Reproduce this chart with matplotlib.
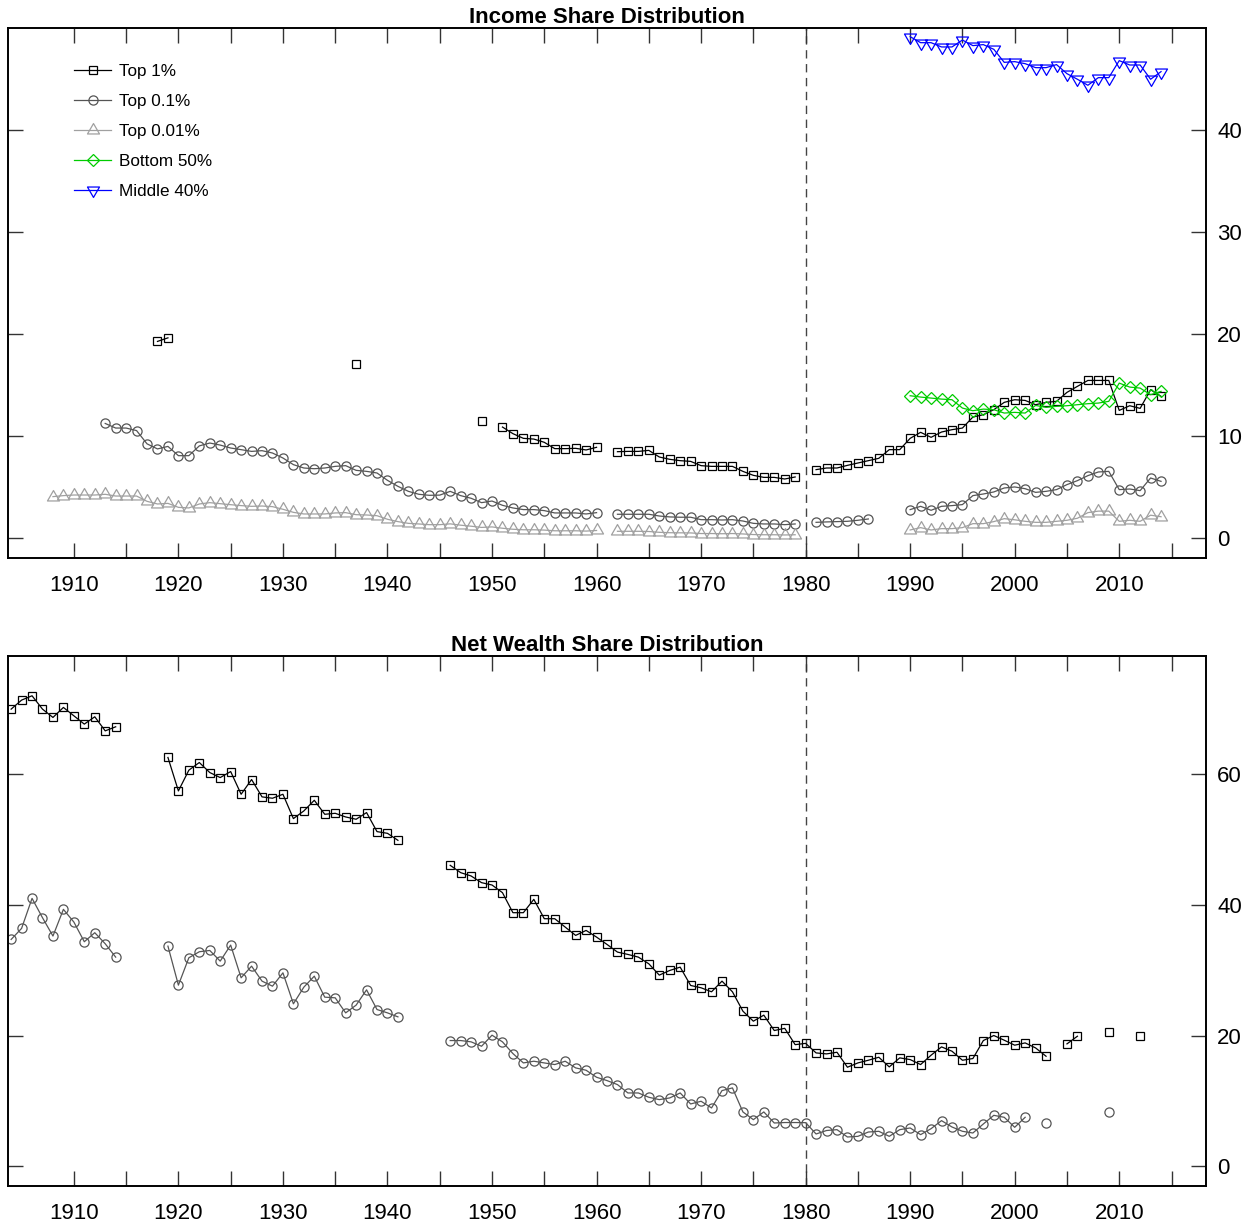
import numpy as np
import matplotlib.pyplot as plt
from matplotlib.path import Path

plt.rcParams['font.family'] = ['Liberation Sans', 'DejaVu Sans']

# ---- income shares (%), one value per year from the start year; None = no data
inc_top1_start = 1918
inc_top1 = [19.25, 19.6] + [None] * 17 + [17.0] + [None] * 11 + [11.47, None,
            10.85, 10.2, 9.74, 9.67, 9.35, 8.73, 8.73, 8.76, 8.6, 8.86, None,
            8.43, 8.46, 8.46, 8.56, 7.91, 7.68, 7.55, 7.48, 7.06, 6.99, 6.99, 6.99,
            6.5, 6.11, 5.91, 5.91, 5.75, 5.95, None,
            6.67, 6.83, 6.83, 7.09, 7.32, 7.55, 7.78, 8.63, 8.63,
            9.74, 10.33, 9.84, 10.36, 10.59, 10.75, 11.83, 12.06, 12.55, 13.27,
            13.53, 13.46, 13.04, 13.27, 13.37, 14.25, 14.84, 15.42, 15.42, 15.42,
            12.48, 12.94, 12.68, 14.51, 13.86]

inc_top01_start = 1913
inc_top01 = [11.2, 10.75, 10.75, 10.5, 9.2, 8.7, 8.95, 8.04, 8.04, 9.0,
             9.28, 9.08, 8.79, 8.63, 8.46, 8.53, 8.3, 7.81, 7.16, 6.83,
             6.76, 6.83, 6.99, 7.06, 6.6, 6.5, 6.34, 5.62, 5.03, 4.54,
             4.25, 4.15, 4.17, 4.54, 4.12, 3.86, 3.43, 3.59, 3.17, 2.91,
             2.75, 2.75, 2.65, 2.42, 2.42, 2.42, 2.32, 2.45, None,
             2.29, 2.29, 2.29, 2.29, 2.12, 2.03, 2.0, 2.0, 1.76, 1.76, 1.73,
             1.76, 1.63, 1.4, 1.34, 1.34, 1.27, 1.34, None,
             1.5, 1.54, 1.57, 1.6, 1.7, 1.83, None, None, None,
             2.75, 3.07, 2.68, 3.07, 3.14, 3.24, 4.12, 4.28, 4.48, 4.87,
             4.97, 4.8, 4.44, 4.54, 4.71, 5.2, 5.59, 6.08, 6.44, 6.5,
             4.71, 4.77, 4.61, 5.85, 5.52]

inc_top001_start = 1908
inc_top001 = [4.02, 4.12, 4.18, 4.18, 4.18, 4.25, 4.08, 4.08, 4.08, 3.56,
              3.3, 3.36, 2.97, 2.91, 3.3, 3.43, 3.33, 3.23, 3.14, 3.07,
              3.1, 3.04, 2.78, 2.48, 2.32, 2.32, 2.32, 2.42, 2.45, 2.25,
              2.22, 2.15, 1.8, 1.57, 1.4, 1.34, 1.27, 1.27, 1.35, 1.22,
              1.12, 1.0, 1.05, 0.92, 0.82, 0.77, 0.77, 0.74, 0.67, 0.67,
              0.67, 0.64, 0.7, None,
              0.62, 0.62, 0.62, 0.6, 0.52, 0.48, 0.47, 0.46, 0.4, 0.4,
              0.38, 0.4, 0.36, 0.3, 0.28, 0.28, 0.26, 0.28] + [None] * 10 + [
              0.75, 0.98, 0.75, 0.88, 0.88, 0.98, 1.37, 1.37, 1.57, 1.86,
              1.75, 1.6, 1.5, 1.5, 1.6, 1.7, 1.9, 2.45, 2.6, 2.6,
              1.6, 1.7, 1.6, 2.2, 2.05]

inc_bottom50_start = 1990
inc_bottom50 = [13.92, 13.79, 13.69, 13.59, 13.53, 12.71, 12.45, 12.61, 12.55, 12.22,
                12.29, 12.22, 12.97, 12.78, 12.88, 12.94, 13.04, 13.14, 13.2, 13.37,
                15.16, 14.77, 14.67, 14.02, 14.35]

inc_middle40_start = 1990
inc_middle40 = [49.15, 48.56, 48.56, 48.14, 48.14, 48.82, 48.27, 48.37, 47.91, 46.63,
                46.7, 46.5, 46.11, 46.11, 46.41, 45.52, 44.97, 44.38, 45.13, 45.13,
                46.8, 46.37, 46.37, 44.97, 45.72]

# ---- net wealth shares (%)
w_top1_start = 1904
w_top1 = [69.88, 71.26, 71.92, 69.88, 68.61, 70.14, 68.86, 67.59, 68.71, 66.56,
          67.18, None, None, None, None,
          62.49, 57.38, 60.55, 61.72, 60.19, 59.42, 60.34, 56.87, 59.12, 56.47,
          56.26, 56.87, 53.15, 54.32, 55.95, 53.81, 53.96, 53.4, 53.05, 54.07,
          51.16, 50.9, 49.83, None, None, None, None,
          46.01, 44.89, 44.38, 43.36, 43.0, 41.83, 38.77, 38.77, 40.81, 37.85,
          37.85, 36.57, 35.3, 36.06, 35.04, 33.92, 32.75, 32.39, 31.98, 30.96,
          29.23, 29.94, 30.45, 27.65, 27.29, 26.68, 28.31, 26.68, 23.72, 22.19,
          23.11, 20.76, 21.1, 18.6, 18.8, 17.34, 17.19, 17.44, 15.15, 15.81,
          16.22, 16.68, 15.2, 16.58, 16.32, 15.56, 16.99, 18.26, 17.6, 16.22,
          16.48, 19.23, 20.0, 19.28, 18.52, 18.87, 18.1, 16.83, None,
          18.72, 19.89, None, None, 20.55, None, None, 19.89]

w_top01_start = 1904
w_top01 = [34.68, 36.37, 40.96, 38.0, 35.2, 39.28, 37.34, 34.33, 35.71, 34.02,
           31.98, None, None, None, None,
           33.66, 27.7, 31.88, 32.8, 33.0, 31.37, 33.82, 28.82, 30.6, 28.31,
           27.54, 29.58, 24.84, 27.39, 29.07, 25.86, 25.76, 23.46, 24.64, 26.98,
           23.97, 23.46, 22.85, None, None, None, None,
           19.23, 19.23, 19.03, 18.36, 20.05, 19.03, 17.24, 15.81, 16.07, 15.81,
           15.56, 16.07, 15.05, 14.69, 13.62, 13.11, 12.5, 11.22, 11.22, 10.56,
           10.2, 10.46, 11.22, 9.54, 9.95, 8.93, 11.58, 11.99, 8.32, 7.14,
           8.32, 6.63, 6.7, 6.7, 6.68, 4.95, 5.48, 5.61, 4.49, 4.59,
           5.25, 5.36, 4.59, 5.61, 5.87, 4.85, 5.76, 6.99, 6.02, 5.36,
           5.1, 6.48, 7.8, 7.5, 5.97, 7.5, None, 6.63,
           None, None, None, None, None, 8.26]


def series(start, vals):
    years = np.arange(start, start + len(vals))
    y = np.array([np.nan if v is None else v for v in vals], dtype=float)
    return years, y


# R-style triangles: the data point sits one third up from the base
tri_codes = [Path.MOVETO, Path.LINETO, Path.LINETO, Path.CLOSEPOLY]
tri_up = Path([(0, 1.555), (1.347, -0.778), (-1.347, -0.778), (0, 1.555)], tri_codes)
tri_down = Path([(0, -1.555), (1.347, 0.778), (-1.347, 0.778), (0, -1.555)], tri_codes)

style = {
    'Top 1%': dict(color='black', marker='s', ms=5.8),
    'Top 0.1%': dict(color='#555555', marker='o', ms=6.6),
    'Top 0.01%': dict(color='#a0a0a0', marker=tri_up, ms=10),
    'Bottom 50%': dict(color='#00cc00', marker='D', ms=5.8),
    'Middle 40%': dict(color='#0000ff', marker=tri_down, ms=10),
}


def draw(ax, start, vals, name, label=True):
    x, y = series(start, vals)
    st = style[name]
    ax.plot(x, y, color=st['color'], lw=0.9, marker=st['marker'], ms=st['ms'],
            mfc='none', mec=st['color'], mew=0.9, label=name if label else None)


def frame(ax, yticks):
    ax.set_xlim(1903.7, 2018.3)
    ax.set_xticks(range(1910, 2011, 10))
    ax.set_xticks(range(1915, 2016, 10), minor=True)
    ax.set_yticks(yticks)
    ax.tick_params(which='both', direction='in', length=11, width=1.0,
                   color='#333333', top=True, bottom=True, left=True, right=True,
                   labelleft=False, labelright=True, labelsize=16)
    ax.tick_params(axis='x', pad=12.5)
    ax.tick_params(axis='y', pad=8)
    for s in ax.spines.values():
        s.set_linewidth(1.4)
    ax.axvline(1980, color='#444444', lw=1.0, ls=(0, (6, 4)), zorder=0)


fig = plt.figure(figsize=(12.54, 12.26), dpi=100)
ax1 = fig.add_axes([8 / 1254, 1 - 558 / 1226, 1198 / 1254, 530 / 1226])
ax2 = fig.add_axes([8 / 1254, 1 - 1186 / 1226, 1198 / 1254, 530 / 1226])

# Income panel
draw(ax1, inc_top1_start, inc_top1, 'Top 1%')
draw(ax1, inc_top01_start, inc_top01, 'Top 0.1%')
draw(ax1, inc_top001_start, inc_top001, 'Top 0.01%')
draw(ax1, inc_bottom50_start, inc_bottom50, 'Bottom 50%')
draw(ax1, inc_middle40_start, inc_middle40, 'Middle 40%')
ax1.set_ylim(-2, 50)
frame(ax1, [0, 10, 20, 30, 40])
ax1.set_title('Income Share Distribution', fontweight='bold', fontsize=16, pad=3)
ax1.legend(loc='upper left', bbox_to_anchor=(0.055, 0.933), frameon=False,
           fontsize=12.3, numpoints=1, handlelength=2.2, handletextpad=0.45,
           labelspacing=0.88, borderpad=0, borderaxespad=0)

# Wealth panel
draw(ax2, w_top1_start, w_top1, 'Top 1%')
draw(ax2, w_top01_start, w_top01, 'Top 0.1%')
ax2.set_ylim(-3, 78)
frame(ax2, [0, 20, 40, 60])
ax2.set_title('Net Wealth Share Distribution', fontweight='bold', fontsize=16, pad=3)

fig.savefig('out.png', dpi=100)
